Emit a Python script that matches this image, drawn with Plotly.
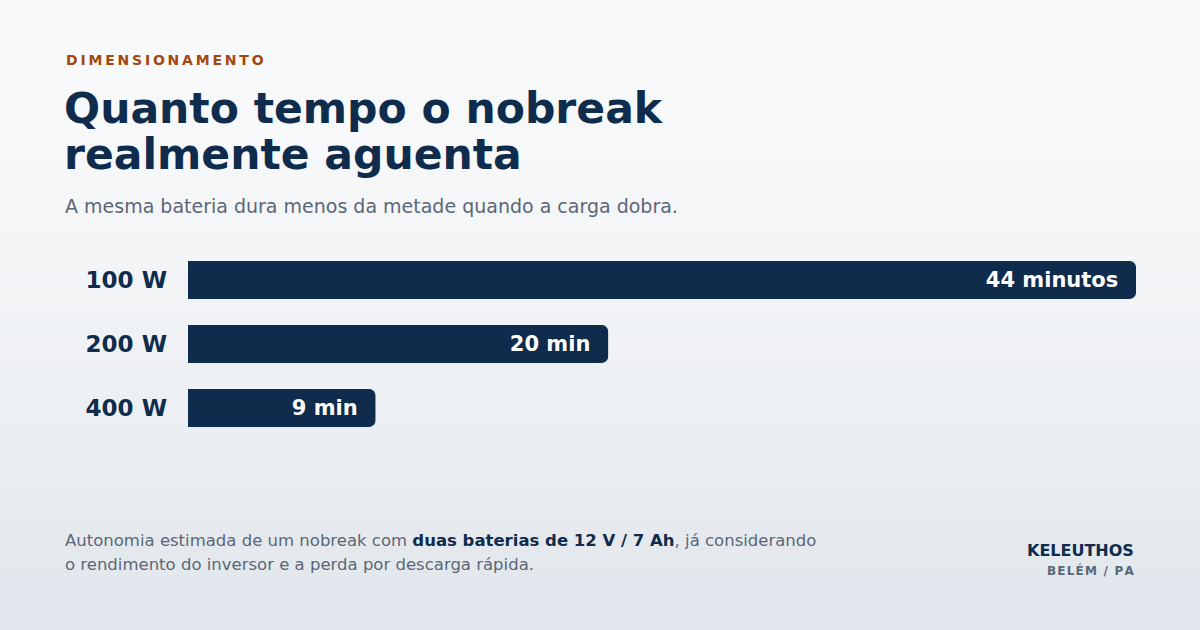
import plotly.graph_objects as go

# dados
cargas = ['100 W', '200 W', '400 W']
minutos = [44, 19.5, 8.7]
rotulos = ['44 minutos', '20 min', '9 min']

NAVY = '#0f2c4c'
GRAY = '#5b6677'
FONT = 'DejaVu Sans'

W, H = 1200, 630
L, R, T, B = 188, 64, 248, 190


def px(x):
    return (x - L) / (W - L - R)


def py(y):
    return (H - B - y) / (H - T - B)


def spaced(s, sep='\u2009'):
    return sep.join(s)


fig = go.Figure(go.Bar(
    y=cargas,
    x=minutos,
    orientation='h',
    width=0.59,
    text=[r + '\u00a0\u00a0' for r in rotulos],
    textposition='inside',
    insidetextanchor='end',
    textfont=dict(family=FONT, size=21, color='white', weight='bold'),
    marker=dict(color=NAVY, cornerradius=6, line=dict(width=0)),
    hoverinfo='skip',
))

# fundo em degrade
shapes = []
n = 40
top = (249, 250, 251)
bot = (225, 230, 236)
for i in range(n):
    t = i / (n - 1)
    c = tuple(int(top[k] + (bot[k] - top[k]) * t ** 1.6) for k in range(3))
    shapes.append(dict(
        type='rect', xref='paper', yref='paper', layer='below',
        x0=px(0), x1=px(W), y0=py((i + 1) * H / n + 1), y1=py(i * H / n),
        fillcolor='rgb(%d,%d,%d)' % c, line=dict(width=0),
    ))

annotations = [
    dict(text='<b>' + spaced('DIMENSIONAMENTO') + '</b>', x=px(64), y=py(67),
         font=dict(size=14, color='#a3470f')),
    dict(text='<b>Quanto tempo o nobreak</b>', x=px(62), y=py(126),
         font=dict(size=42.5, color=NAVY)),
    dict(text='<b>realmente aguenta</b>', x=px(62), y=py(172),
         font=dict(size=42.5, color=NAVY)),
    dict(text='A mesma bateria dura menos da metade quando a carga dobra.',
         x=px(63), y=py(215), font=dict(size=19, color=GRAY)),
    dict(text='Autonomia estimada de um nobreak com <b style="color:%s">duas baterias de 12 V / 7 Ah</b>, já considerando' % NAVY,
         x=px(63), y=py(548), font=dict(size=16.5, color=GRAY)),
    dict(text='o rendimento do inversor e a perda por descarga rápida.',
         x=px(63), y=py(572), font=dict(size=16.5, color=GRAY)),
    dict(text='<b>KELEUTHOS</b>', x=px(1136), y=py(558), xanchor='right',
         font=dict(size=16, color=NAVY)),
    dict(text='<b>' + spaced('BELÉM / PA', '\u200a') + '</b>', x=px(1136), y=py(577), xanchor='right',
         font=dict(size=12, color=GRAY)),
]
for a in annotations:
    a.setdefault('xanchor', 'left')
    a.update(xref='paper', yref='paper', yanchor='bottom', showarrow=False,
             align='left', yshift=-0.22 * a['font']['size'])
    a['font']['family'] = FONT

fig.update_layout(
    width=W, height=H,
    margin=dict(l=L, r=R, t=T, b=B),
    paper_bgcolor='#f2f4f7',
    plot_bgcolor='rgba(0,0,0,0)',
    showlegend=False,
    xaxis=dict(range=[0, 44], visible=False, fixedrange=True),
    yaxis=dict(
        autorange='reversed',
        showgrid=False, zeroline=False, showline=False,
        ticklabelstandoff=20,
        tickfont=dict(family=FONT, size=23, color=NAVY, weight='bold'),
        fixedrange=True,
    ),
    uniformtext=dict(minsize=10, mode='show'),
    shapes=shapes,
    annotations=annotations,
)

fig.write_html('out.html', config={'displayModeBar': False},
               post_script="document.body.style.margin='0';")
